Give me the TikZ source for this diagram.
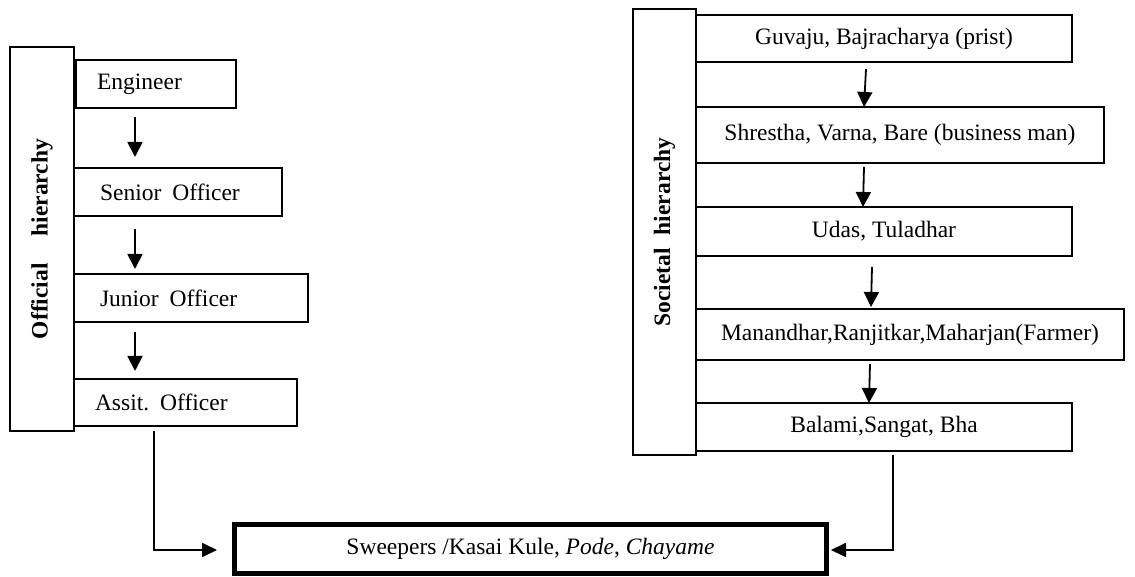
\documentclass[tikz,border=0pt]{standalone}
\usepackage{fontspec}
\setmainfont{Liberation Serif}
\usetikzlibrary{arrows.meta}

\begin{document}
\begin{tikzpicture}[x=1pt,y=1pt,
  font=\fontsize{23.5}{28}\selectfont,
  box/.style={draw, line width=1.8pt, outer sep=0pt, inner ysep=2pt},
  leftbox/.style={box, anchor=north west, align=left, minimum height=48pt},
  rightbox/.style={box, anchor=north west, align=center, inner xsep=0pt},
  sidebox/.style={box, rotate=90, font=\fontsize{23.5}{28}\selectfont\bfseries},
  arr/.style={line width=1.8pt, -{Triangle[length=15pt,width=15pt]}},
  link/.style={line width=1.8pt, -{Triangle[length=15pt,width=14pt]}}
]
\useasboundingbox (0,0) rectangle (1135,576);

% ---- official hierarchy (left column) ----
\node[sidebox, minimum width=384pt, minimum height=64pt] (off) at (42,337)
  {Official\hspace{27pt}hierarchy};
\node[leftbox, minimum width=160pt, inner xsep=21pt, text width=118pt] (eng) at (76,516) {Engineer};
\node[leftbox, minimum width=208pt, inner xsep=26pt, text width=156pt] (sen) at (74,408) {Senior\hspace{11pt}Officer};
\node[leftbox, minimum width=234pt, inner xsep=26pt, text width=182pt] (jun) at (74,302) {Junior\hspace{11pt}Officer};
\node[leftbox, minimum width=223pt, minimum height=47pt, inner xsep=21pt, text width=181pt] (ass) at (74,197) {Assit.\hspace{11pt}Officer};

\draw[arr] ([xshift=-21pt,yshift=-9pt]eng.south) -- ([xshift=-43pt,yshift=11pt]sen.north);
\draw[arr] ([xshift=-43pt,yshift=-13pt]sen.south) -- ([xshift=-56pt,yshift=5pt]jun.north);
\draw[arr] ([xshift=-56pt,yshift=-10pt]jun.south) -- ([xshift=-50.5pt,yshift=8pt]ass.north);

% ---- societal hierarchy (right column) ----
\node[sidebox, minimum width=446pt, minimum height=63pt] (soc) at (664.5,344)
  {Societal\hspace{13pt}hierarchy};
\node[rightbox, minimum width=376pt, minimum height=47pt] (guv) at (696,561) {Guvaju, Bajracharya (prist)};
\node[rightbox, minimum width=408pt, minimum height=56pt] (shr) at (696,469) {Shrestha, Varna, Bare (business man)};
\node[rightbox, minimum width=376pt, minimum height=49pt] (uda) at (696,369) {Udas, Tuladhar};
\node[rightbox, minimum width=428pt, minimum height=51pt] (man) at (696,267) {Manandhar,Ranjitkar,Maharjan(Farmer)};
\node[rightbox, minimum width=376pt, minimum height=48pt] (bal) at (696,173) {Balami,Sangat, Bha};

\draw[arr] ([xshift=-18pt,yshift=-7pt]guv.south) -- ([xshift=-36pt]shr.north);
\draw[arr] ([xshift=-36pt,yshift=-4pt]shr.south) -- ([xshift=-21pt]uda.north);
\draw[arr] ([xshift=-12pt,yshift=-11pt]uda.south) -- ([xshift=-39pt,yshift=2pt]man.north);
\draw[arr] ([xshift=-40pt,yshift=-4pt]man.south) -- ([xshift=-15pt]bal.north);

% ---- common bottom group ----
\node[draw, line width=5pt, minimum width=592pt, minimum height=49pt] (swp) at (530.5,27)
  {Sweepers /Kasai Kule, \textit{Pode}, \textit{Chayame}};

\draw[link] ([xshift=-31.5pt,yshift=-5pt]ass.south) |- ([xshift=-15pt,yshift=-1pt]swp.west);
\draw[link] ([xshift=9pt,yshift=-4pt]bal.south) |- ([xshift=2pt,yshift=-1pt]swp.east);
\end{tikzpicture}
\end{document}
